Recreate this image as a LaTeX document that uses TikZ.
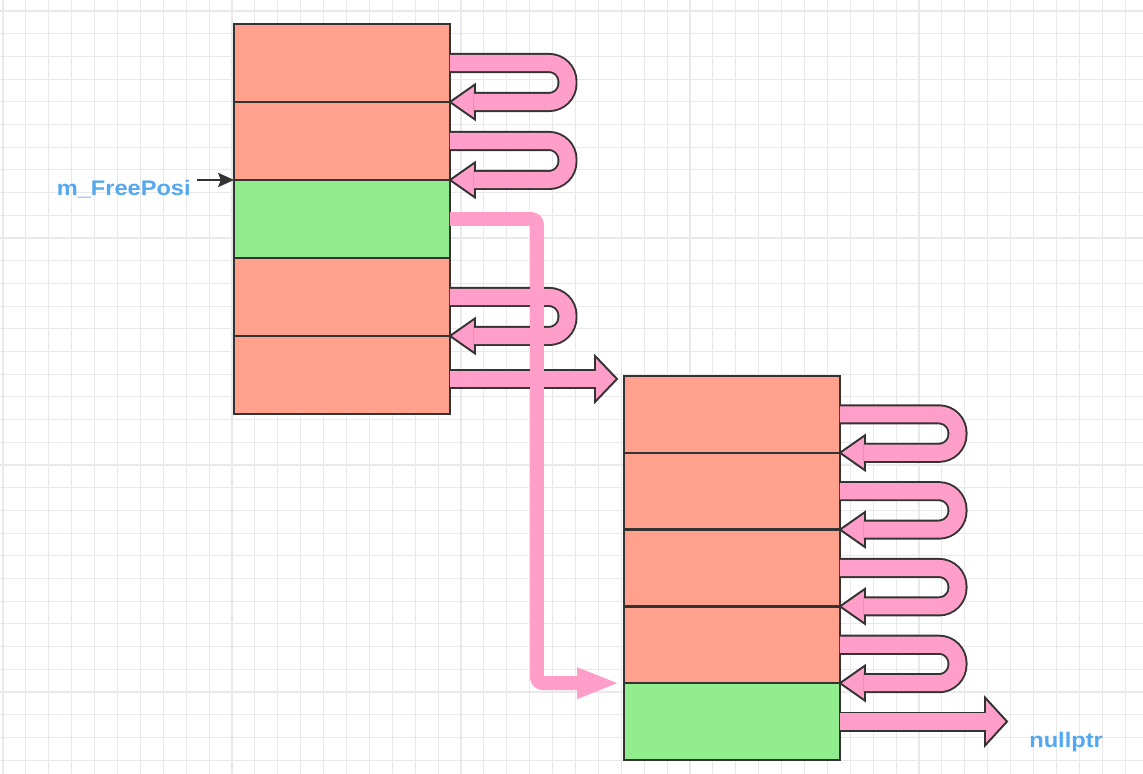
\documentclass[tikz,border=0pt]{standalone}
\usepackage{fontspec}
\usepackage{tikz}
\usetikzlibrary{positioning,calc,arrows.meta}
\newfontfamily\lblfont[FakeStretch=1.12]{Liberation Sans}
\definecolor{salmon}{RGB}{255,161,141}
\definecolor{freegreen}{RGB}{144,236,141}
\definecolor{linkpink}{RGB}{255,158,201}
\definecolor{edgegray}{RGB}{51,51,51}
\definecolor{gridgray}{RGB}{233,233,233}
\definecolor{labelblue}{RGB}{84,168,240}

\begin{document}
\begin{tikzpicture}[x=0.02cm, y=-0.02cm,
    cell/.style={draw=edgegray, line width=1.3pt, minimum width=4.32cm, minimum height=1.56cm, inner sep=0pt, outer sep=0pt},
    rcell/.style={cell, minimum height=1.536cm},
    used/.style={fill=salmon},
    free/.style={fill=freegreen},
    shaft/.style={draw=edgegray, line width=1.1pt, double=linkpink, double distance=9.2pt},
    head/.style={fill=linkpink, draw=edgegray, line width=1.1pt},
    link/.style={draw=linkpink, line width=7.9pt, rounded corners=0.12cm},
    lbl/.style={text=labelblue, font=\lblfont\bfseries\fontsize{12}{14}\selectfont, inner sep=0pt}]

      \useasboundingbox (0,0) rectangle (1143,774);
      \fill[white] (0,0) rectangle (1143,774);
      \foreach \gx in {3,25.9,...,1143} \draw[gridgray, line width=0.6pt] (\gx,0) -- (\gx,774);
      \foreach \gy in {11,33.7,...,774} \draw[gridgray, line width=0.6pt] (0,\gy) -- (1143,\gy);

      % first pool
      \node[cell, used] (l1) at (342,63) {};
      \node[cell, used, below=0pt of l1] (l2) {};
      \node[cell, free, below=0pt of l2] (l3) {};
      \node[cell, used, below=0pt of l3] (l4) {};
      \node[cell, used, below=0pt of l4] (l5) {};

      % second pool
      \node[rcell, used] (r1) at (732,414.4) {};
      \node[rcell, used, below=0pt of r1] (r2) {};
      \node[rcell, used, below=0pt of r2] (r3) {};
      \node[rcell, used, below=0pt of r3] (r4) {};
      \node[rcell, free, below=0pt of r4] (r5) {};

      \node[lbl, anchor=base east] (posi) at (191,195) {m\_FreePosi};
      \draw[edgegray, line width=1.5pt, -{Stealth[length=9pt,width=8pt,inset=1.5pt]}, shorten <=3.5pt] (posi.east |- l3.north west) -- (l3.north west);

      % next pointers
      \foreach \c in {l1,l2,l4,r1,r2,r3,r4} {
        \draw[head] (\c.south east) -- ++(25,-17.5) -- ++(0,35) -- cycle;
        \draw[shaft, rounded corners=0.37cm] (\c.east) -- ++(117.5,0) |- ($(\c.south east)+(24,0)$);
      }

      \draw[head] ($(l5.east -| r1.west)+(-7,4)$) -- ++(-22,-23) -- ++(0,46) -- cycle;
      \draw[shaft] ($(l5.east)+(0,4)$) -- ($(l5.east -| r1.west)+(-28,4)$);

      \node[lbl, anchor=base west] (null) at (1029,747) {nullptr};
      \draw[head] ($(r5.east -| null.west)+(-22,0)$) -- ++(-22,-24) -- ++(0,48) -- cycle;
      \draw[shaft] (r5.east) -- ($(r5.east -| null.west)+(-43,0)$);

      % free slot link
      \coordinate (drop) at (537,0);
      \fill[linkpink] ($(r5.north west)+(-7,0)$) -- ++(-40,-16) -- ++(0,32) -- cycle;
      \draw[link] (l3.east) -| (drop |- r5.north west) -- ($(r5.north west)+(-44,0)$);
    \end{tikzpicture}
\end{document}
